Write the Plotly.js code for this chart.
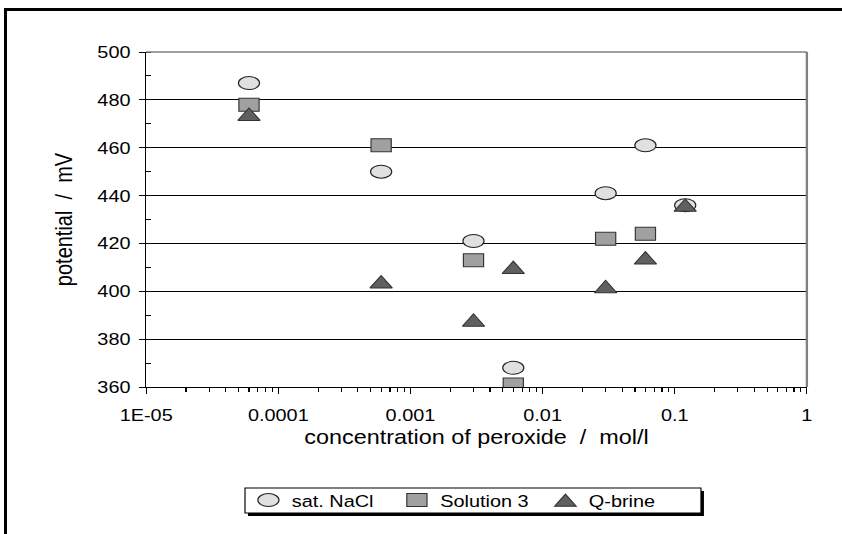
<!DOCTYPE html>
<html>
<head>
<meta charset="utf-8">
<script src="https://cdn.plot.ly/plotly-3.0.1.min.js"></script>
<style>
  html, body { margin: 0; padding: 0; background: #fff; overflow: hidden; }
  #chart { position: absolute; left: 0; top: 0; width: 720px; height: 534px;
           transform-origin: 0 0; transform: scaleX(1.1694); }
  #frame { position: absolute; left: 4px; top: 8px; width: 900px; height: 600px;
           border-left: 3px solid #000; border-top: 3px solid #000; pointer-events: none; }
</style>
</head>
<body>
<div id="chart"></div>
<div id="frame"></div>
<script>
// Peroxide concentration (mol/l) and measured potentials (mV)
const concentration = [6e-5, 6e-4, 3e-3, 6e-3, 0.03, 0.06, 0.12];
const satNaCl   = [487, 450, 421, 368, 441, 461, 436];
const solution3 = [478, 461, 413, 361, 422, 424, null];
const qBrine    = [474, 404, 388, 410, 402, 414, 436];

const seriesNames = ['sat. NaCl', 'Solution 3', 'Q-brine'];
const xTickVals = [1e-5, 1e-4, 1e-3, 1e-2, 1e-1, 1];
const xTickText = ['1E-05', '0.0001', '0.001', '0.01', '0.1', '1'];

// 2..9 minor marks inside every decade
const xMinor = [];
for (let i = 0; i < xTickVals.length - 1; i++) {
  for (let k = 2; k <= 9; k++) xMinor.push(k * xTickVals[i]);
}

const family = 'Liberation Sans, Arial, sans-serif';
const font = { family: family, size: 17, color: '#000' };
const titleFont = { family: family, size: 20, color: '#000' };

const traces = [
  { x: concentration, y: satNaCl, name: seriesNames[0], type: 'scatter', mode: 'markers',
    marker: { symbol: 'circle', size: 13, color: '#e0e0e0', line: { color: '#222', width: 1 } } },
  { x: concentration, y: solution3, name: seriesNames[1], type: 'scatter', mode: 'markers',
    marker: { symbol: 'square', size: 13, color: '#a0a0a0', line: { color: '#333', width: 1 } } },
  { x: concentration, y: qBrine, name: seriesNames[2], type: 'scatter', mode: 'markers',
    marker: { symbol: 'triangle-up', size: 16.5, color: '#606060', line: { color: '#333', width: 1 } } }
];

// horizontal widening of each marker shape (ellipse, box, triangle),
// and a downward nudge that centres the triangle's box on its value
const markerStretch = [1.39, 1.33, 1.0];
const markerNudge = [0, 0, 16.5 / 8];

const xCommon = {
  type: 'log', range: [-5, 0], tickmode: 'array', tickvals: xTickVals,
  showgrid: false, zeroline: false, tickcolor: '#000', tickwidth: 1, automargin: false
};

const layout = {
  width: 720, height: 534,
  margin: { l: 125, r: 30, t: 52, b: 147 },
  paper_bgcolor: 'rgba(0,0,0,0)', plot_bgcolor: '#fff',
  font: font,
  showlegend: true,
  xaxis: Object.assign({}, xCommon, {
    ticktext: xTickText, ticks: 'outside', ticklen: 6, ticklabelstandoff: 7,
    showline: true, linecolor: '#000', linewidth: 1,
    minor: { tickmode: 'array', tickvals: xMinor, ticks: 'outside', ticklen: 4, tickcolor: '#000', showgrid: false },
    title: { text: 'concentration of peroxide \u00a0/\u00a0 mol/l', font: titleFont, standoff: 5 }
  }),
  xaxis2: Object.assign({}, xCommon, {
    overlaying: 'x', anchor: 'y', side: 'bottom', ticks: 'inside', ticklen: 6,
    showticklabels: false, showline: false,
    minor: { tickmode: 'array', tickvals: xMinor, ticks: 'inside', ticklen: 4, tickcolor: '#000', showgrid: false }
  }),
  yaxis: {
    range: [360, 500], tick0: 360, dtick: 20, ticks: 'outside', ticklen: 5,
    tickcolor: '#000', showgrid: true, gridcolor: '#000', gridwidth: 1,
    showline: true, linecolor: '#000', linewidth: 1, zeroline: false, automargin: false,
    ticklabelstandoff: 4,
    minor: { dtick: 10, ticks: 'inside', ticklen: 4, tickcolor: '#000', showgrid: false },
    title: { text: 'potential \u00a0/\u00a0 mV', font: titleFont, standoff: 15 }
  },
  shapes: [
    // plot area frame, top and right
    { type: 'line', xref: 'paper', yref: 'paper', x0: 0, x1: 1, y0: 1, y1: 1, layer: 'above',
      line: { color: '#808080', width: 1.5 } },
    { type: 'line', xref: 'paper', yref: 'paper', x0: 1, x1: 1, y0: 0, y1: 1, layer: 'above',
      line: { color: '#808080', width: 2 } },
    // legend box with its drop shadow
    { type: 'rect', xref: 'paper', yref: 'paper', x0: 0.1541, x1: 0.8442, y0: -0.3105, y1: -0.3851,
      fillcolor: '#000', line: { width: 0 }, layer: 'above' },
    { type: 'rect', xref: 'paper', yref: 'paper', x0: 0.1496, x1: 0.8397, y0: -0.3015, y1: -0.3761,
      fillcolor: '#fff', line: { color: '#000', width: 1 }, layer: 'above' }
  ],
  legend: {
    orientation: 'h', xref: 'container', yref: 'container',
    x: 0.291, xanchor: 'left', y: 0.0627, yanchor: 'middle',
    bgcolor: 'rgba(0,0,0,0)', borderwidth: 0, font: font,
    entrywidth: 82, entrywidthmode: 'pixels'
  }
};

const gd = document.getElementById('chart');
Plotly.newPlot(gd, traces, layout, { staticPlot: true }).then(function () {
  function reshape(p, i) {
    const t = p.getAttribute('transform') || '';
    p.setAttribute('transform', t + ' translate(0,' + markerNudge[i] + ') scale(' + markerStretch[i] + ',1)');
    p.style.vectorEffect = 'non-scaling-stroke';
  }
  gd.querySelectorAll('.scatterlayer .trace').forEach(function (g, i) {
    g.querySelectorAll('path.point').forEach(function (p) { reshape(p, i); });
  });
  gd.querySelectorAll('.legend .traces').forEach(function (g, i) {
    g.querySelectorAll('path.scatterpts').forEach(function (p) { reshape(p, i); });
  });
});
</script>
</body>
</html>
